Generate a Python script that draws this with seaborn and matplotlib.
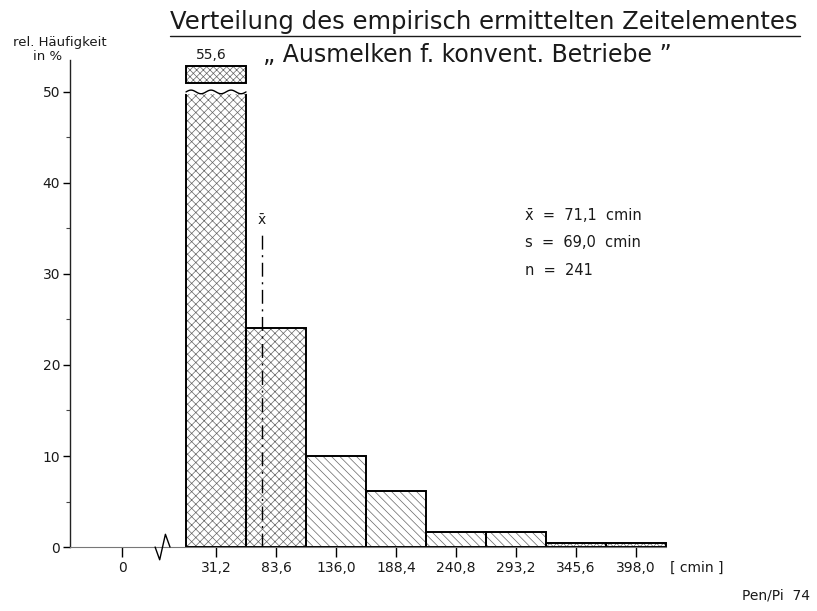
import numpy as np
import pandas as pd
import matplotlib

matplotlib.use("Agg")
import matplotlib.pyplot as plt
import seaborn as sns
from matplotlib.lines import Line2D

# Klassenmitten [cmin] und relative Häufigkeit [%] (n = 241)
class_centers = [31.2, 83.6, 136.0, 188.4, 240.8, 293.2, 345.6, 398.0]
rel_freq = [55.6, 24.1, 10.0, 6.2, 1.7, 1.7, 0.4, 0.4]
tick_labels = ["31,2", "83,6", "136,0", "188,4", "240,8", "293,2", "345,6", "398,0"]
hatches = ["xxxx", "xxxx", "\\\\\\\\", "\\\\\\\\", "\\\\\\\\", "\\\\\\\\",
           "xxxxx", "xxxxx"]

mean_x = 71.1
stats_lines = ["x\u0304  =  71,1  cmin", "s  =  69,0  cmin", "n  =  241"]

# Achsenbruch
BREAK_AT = 50.0
TOP_PIECE = (51.0, 52.9)
ZERO_POS = -50.9
BREAK_X = -15.0
X_LEFT, X_RIGHT = -96.3, 488.8
Y_TOP = 53.5

INK = "#1a1a1a"
HATCH_COLOR = "#666666"

sns.set_style("ticks")
plt.rcParams["font.family"] = ["DejaVu Sans"]
plt.rcParams["hatch.linewidth"] = 0.5

fig = plt.figure(figsize=(8.17, 6.11), dpi=100)
ax = fig.add_axes([0.0857, 0.1047, 0.8201, 0.797])

df = pd.DataFrame({"klasse": class_centers, "anteil": np.minimum(rel_freq, BREAK_AT)})

# Schraffierte Füllung
sns.barplot(data=df, x="klasse", y="anteil", native_scale=True, width=1.0,
            color="white", edgecolor=HATCH_COLOR, linewidth=0, saturation=1,
            errorbar=None, ax=ax)
for patch, h in zip(ax.patches, hatches):
    patch.set_hatch(h)
    patch.set_facecolor("white")
    patch.set_edgecolor(HATCH_COLOR)

# Umrisse
sns.barplot(data=df, x="klasse", y="anteil", native_scale=True, width=1.0,
            fill=False, color="black", linewidth=1.4, errorbar=None, ax=ax)

bin_w = class_centers[1] - class_centers[0]
left1 = class_centers[0] - bin_w / 2
right1 = class_centers[0] + bin_w / 2

# welliger Bruch am ersten Balken
ax.plot([left1, right1], [BREAK_AT, BREAK_AT], color="white", lw=3, zorder=5)
wx = np.linspace(left1, right1, 80)
wy = BREAK_AT + 0.2 * np.sin((wx - left1) / bin_w * 2 * np.pi * 3)
ax.plot(wx, wy, color="black", lw=1.0, zorder=6)

# abgetrenntes Oberteil
ax.bar(class_centers[0], TOP_PIECE[1] - TOP_PIECE[0], bottom=TOP_PIECE[0],
       width=bin_w, color="white", edgecolor=HATCH_COLOR, linewidth=0,
       hatch="xxxxx", clip_on=False, zorder=3)
ax.bar(class_centers[0], TOP_PIECE[1] - TOP_PIECE[0], bottom=TOP_PIECE[0],
       width=bin_w, fill=False, edgecolor="black", linewidth=1.4,
       clip_on=False, zorder=4)
ax.text(class_centers[0] - 4, 54.1, "55,6", ha="center", va="center",
        fontsize=10, color=INK)

# Mittelwert
ax.plot([mean_x, mean_x], [0, 34.3], color="black", lw=1.0,
        linestyle=(0, (10, 4, 1.5, 4)), zorder=7)
ax.text(mean_x, 35.9, "x\u0304", ha="center", va="center", fontsize=10, color=INK)

# Achsen
ax.set_xlim(X_LEFT, X_RIGHT)
ax.set_ylim(0, Y_TOP)
ax.set_xlabel("")
ax.set_ylabel("")
ax.set_xticks([ZERO_POS] + class_centers)
ax.set_xticklabels(["0"] + tick_labels, fontsize=10, color=INK)
ax.set_yticks([0, 10, 20, 30, 40, 50])
ax.set_yticklabels(["0", "10", "20", "30", "40", "50"], fontsize=10, color=INK)
ax.set_yticks(np.arange(5, 50, 10), minor=True)
ax.tick_params(axis="x", length=7, width=1, color="black", pad=3)
ax.tick_params(axis="y", which="major", length=5, width=1, color="black", pad=2)
ax.tick_params(axis="y", which="minor", length=3, width=0.8, color="#444")

sns.despine(ax=ax, top=True, right=True)
ax.spines["left"].set_linewidth(1.0)
ax.spines["left"].set_color("#222")
ax.spines["bottom"].set_bounds(X_LEFT, class_centers[-1] + bin_w / 2)
ax.spines["bottom"].set_linewidth(0.8)
ax.spines["bottom"].set_color("#777")

# Zickzack im Achsenbruch
zx = [BREAK_X - 7, BREAK_X - 3, BREAK_X + 2, BREAK_X + 6]
zy = [0, -1.4, 1.4, 0]
ax.plot(zx, zy, color="black", lw=1.0, clip_on=False, zorder=8)

# Texte
title = fig.text(0.208, 0.964, "Verteilung des empirisch ermittelten Zeitelementes",
                 ha="left", va="center", fontsize=17.5, color=INK)
fig.text(0.322, 0.910, "\u201e Ausmelken f. konvent. Betriebe \u201d",
         ha="left", va="center", fontsize=17, color=INK)
fig.text(0.0734, 0.931, "rel. Häufigkeit", ha="center", va="center",
         fontsize=9.5, color=INK)
fig.text(0.0760, 0.907, "in %", ha="right", va="center", fontsize=9.5, color=INK)
fig.text(0.820, 0.0704, "[ cmin ]", ha="left", va="center", fontsize=10, color=INK)
fig.text(0.991, 0.026, "Pen/Pi  74", ha="right", va="center", fontsize=10, color=INK)

for i, line in enumerate(stats_lines):
    fig.text(0.643, 0.648 - i * 0.045, line, ha="left", va="center",
             fontsize=10.5, color=INK)

# Unterstreichung des Titels
fig.canvas.draw()
bb = title.get_window_extent().transformed(fig.transFigure.inverted())
fig.add_artist(Line2D([bb.x0, bb.x1 + 0.003], [bb.y0 - 0.004, bb.y0 - 0.004],
                      color=INK, lw=1.0))

fig.savefig("out.png", dpi=100)
